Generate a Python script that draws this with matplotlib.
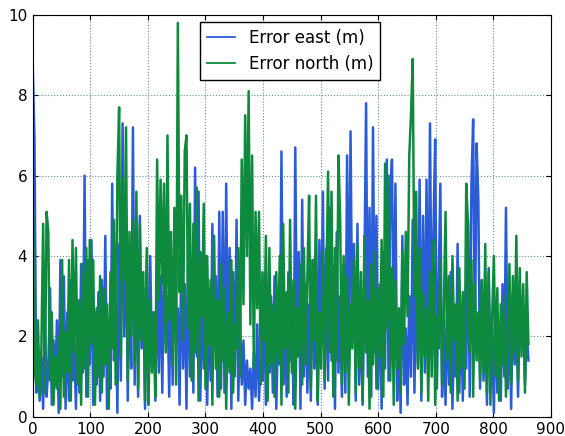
import numpy as np
from matplotlib import pyplot as plt

# muestras cada 3 unidades (0 .. 861)
step = 3

error_east = [
    8.7, 6.9, 0.6, 1.8, 0.4, 1.5, 0.2, 2.6, 0.5, 1.2,
    3.2, 0.3, 1.9, 0.8, 2.4, 0.1, 3.9, 1.0, 3.5, 0.2,
    2.6, 0.4, 3.4, 0.9, 1.8, 0.2, 2.9, 0.6, 3.8, 1.1,
    6.0, 0.5, 3.9, 1.3, 4.4, 0.3, 2.6, 0.8, 3.1, 0.4,
    3.4, 1.0, 4.5, 0.2, 2.2, 0.7, 5.8, 1.4, 3.0, 0.1,
    4.3, 0.9, 7.3, 2.0, 5.1, 0.4, 3.6, 1.2, 7.2, 0.8,
    4.6, 0.5, 5.0, 1.7, 3.2, 0.2, 3.9, 0.3, 4.0, 1.5,
    2.6, 0.4, 3.8, 1.1, 3.5, 0.6, 4.2, 1.8, 3.0, 0.5,
    3.7, 0.8, 4.6, 1.9, 2.7, 0.3, 4.1, 1.2, 3.3, 0.2,
    4.4, 1.0, 3.6, 0.6, 6.2, 1.5, 5.6, 0.4, 3.1, 1.2,
    4.0, 0.3, 2.8, 0.9, 4.8, 1.7, 3.5, 0.5, 5.1, 0.7,
    5.1, 0.6, 5.8, 1.3, 4.2, 0.2, 3.6, 1.0, 4.9, 0.4,
    2.5, 0.8, 1.9, 0.3, 1.4, 0.7, 1.2, 0.2, 1.6, 0.5,
    2.3, 0.4, 1.5, 0.9, 2.8, 0.3, 1.9, 1.1, 3.0, 0.6,
    3.5, 0.2, 2.1, 1.3, 6.6, 0.8, 2.9, 0.5, 3.6, 1.4,
    2.4, 0.3, 6.7, 1.5, 4.1, 0.2, 5.4, 1.0, 3.3, 0.6,
    2.8, 0.4, 3.9, 1.2, 2.5, 0.3, 4.4, 1.8, 5.6, 0.7,
    4.2, 0.9, 5.2, 1.4, 3.7, 0.2, 4.6, 1.1, 3.0, 0.5,
    3.8, 0.6, 6.5, 1.4, 7.1, 2.0, 4.3, 0.4, 4.8, 0.8,
    2.6, 0.3, 3.5, 7.8, 1.0, 5.2, 0.5, 7.2, 1.6, 5.0,
    0.7, 3.3, 0.2, 4.1, 1.2, 6.4, 0.9, 5.6, 6.4, 1.5,
    5.8, 0.4, 2.6, 0.1, 4.5, 0.8, 2.2, 0.3, 3.0, 1.0,
    4.9, 0.6, 3.7, 1.3, 5.9, 0.4, 5.0, 1.1, 5.9, 0.9,
    7.3, 1.8, 4.6, 6.9, 0.7, 3.2, 5.8, 0.5, 2.4, 0.3,
    2.9, 0.8, 3.6, 0.2, 2.1, 1.0, 4.3, 0.6, 2.8, 0.4,
    3.1, 1.2, 4.9, 0.5, 5.8, 7.4, 1.6, 6.8, 5.4, 0.7,
    3.4, 0.9, 2.5, 0.3, 3.7, 1.1, 2.2, 0.1, 2.9, 0.6,
    2.0, 0.4, 3.3, 1.0, 5.2, 0.7, 2.6, 0.2, 3.1, 1.3,
    2.4, 0.5, 3.0, 1.8, 2.7, 0.8, 2.2, 1.4,
]

error_north = [
    5.6, 1.2, 0.8, 2.4, 0.5, 1.7, 4.8, 0.6, 5.1, 4.6,
    0.9, 2.6, 0.3, 1.5, 0.7, 2.0, 0.2, 3.9, 0.5, 2.1,
    1.1, 3.9, 0.4, 4.4, 1.6, 4.2, 0.8, 2.9, 0.3, 3.8,
    1.2, 4.2, 0.5, 4.4, 1.8, 3.9, 0.3, 2.7, 1.0, 3.5,
    0.6, 3.2, 1.3, 2.8, 0.2, 3.6, 1.7, 4.9, 0.8, 6.0,
    7.7, 1.5, 5.9, 3.4, 7.2, 0.9, 4.6, 2.0, 4.9, 1.3,
    5.6, 0.7, 4.8, 1.9, 3.6, 0.4, 4.2, 0.3, 2.9, 1.1,
    2.6, 0.5, 6.4, 2.9, 5.9, 3.3, 5.8, 1.6, 7.0, 2.4,
    4.6, 1.3, 5.2, 0.8, 9.8, 3.1, 5.5, 1.9, 6.6, 7.0,
    2.2, 5.3, 0.9, 4.8, 1.6, 5.7, 0.4, 4.1, 2.5, 5.3,
    0.7, 4.0, 1.8, 3.4, 0.3, 4.5, 1.2, 2.9, 0.5, 3.8,
    1.4, 3.2, 0.2, 2.6, 1.1, 3.9, 0.6, 2.3, 1.7, 4.2,
    1.0, 6.4, 2.8, 7.5, 4.0, 8.1, 2.3, 6.5, 1.2, 5.1,
    2.7, 5.1, 0.8, 3.6, 1.9, 4.5, 0.4, 4.2, 1.3, 2.8,
    0.5, 3.6, 1.4, 4.0, 0.3, 4.8, 1.7, 3.1, 0.6, 4.9,
    1.1, 3.4, 0.2, 2.7, 1.5, 3.8, 0.8, 4.2, 1.3, 3.5,
    5.5, 0.7, 3.9, 1.9, 5.5, 0.4, 2.6, 1.2, 4.1, 0.9,
    3.3, 6.1, 1.6, 5.6, 0.5, 4.2, 1.4, 6.5, 4.9, 0.8,
    4.0, 1.1, 3.5, 0.3, 2.8, 1.7, 3.9, 0.6, 4.3, 1.2,
    3.6, 0.4, 4.5, 1.6, 2.9, 0.2, 3.8, 1.3, 4.1, 0.7,
    3.2, 1.5, 4.4, 0.5, 6.3, 2.2, 6.0, 0.9, 3.7, 0.3,
    3.4, 1.2, 2.7, 0.6, 4.1, 1.8, 4.6, 2.5, 6.5, 7.5,
    8.9, 3.0, 5.6, 1.2, 4.2, 0.6, 3.1, 1.5, 2.7, 0.4,
    3.6, 1.0, 4.4, 0.3, 2.5, 1.7, 3.9, 0.8, 2.6, 5.1,
    1.4, 3.5, 0.6, 4.0, 1.9, 2.8, 0.4, 3.7, 1.2, 3.1,
    0.7, 5.8, 4.8, 1.6, 3.9, 0.5, 3.3, 1.4, 2.6, 0.9,
    3.4, 1.1, 4.3, 0.6, 3.6, 0.3, 2.5, 4.0, 1.0, 3.2,
    0.4, 2.8, 1.3, 3.0, 0.5, 2.2, 3.8, 0.8, 3.5, 1.6,
    4.5, 0.9, 3.7, 1.5, 3.3, 0.6, 3.6, 1.8,
]

x_east = np.arange(len(error_east)) * step
x_north = np.arange(len(error_north)) * step

fig = plt.figure(figsize=(5.65, 4.36), dpi=100)
ax = fig.add_axes([0.058, 0.044, 0.917, 0.922])

ax.plot(x_east, error_east, color='#2b5cd8', lw=1.8, label='Error east (m)')
ax.plot(x_north, error_north, color='#0e8a3e', lw=1.8, label='Error north (m)')

ax.set_xlim(0, 900)
ax.set_ylim(0, 10)
ax.set_xticks(range(0, 901, 100))
ax.set_yticks(range(0, 11, 2))
ax.tick_params(direction='in', top=True, right=True, labelsize=11, pad=4)
ax.grid(True, color='#5f8fa0', linestyle=':', linewidth=0.8)

leg = ax.legend(loc='upper center', bbox_to_anchor=(0.497, 1.003), fontsize=12,
                fancybox=False, framealpha=1, edgecolor='black', handlelength=1.7)
leg.get_frame().set_linewidth(1.0)
for line in leg.get_lines():
    line.set_linewidth(1.3)

plt.savefig('out.png', dpi=100)
